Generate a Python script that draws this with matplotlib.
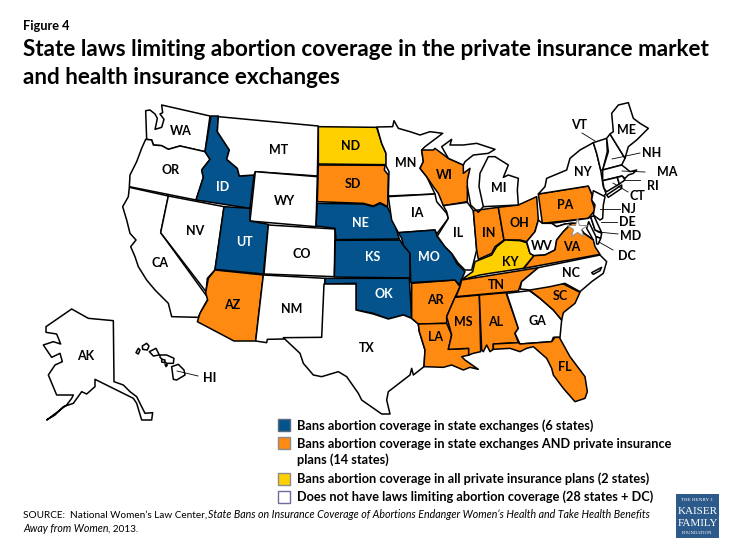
import matplotlib
matplotlib.use("Agg")
import matplotlib.pyplot as plt
from matplotlib.patches import Polygon, Rectangle

plt.rcParams['font.family'] = ['Lato', 'DejaVu Sans']

BLUE = '#04538C'; ORANGE = '#FF8A12'; YELLOW = '#FFD000'; WHITE = '#FFFFFF'
TITLE_LINES = ["State laws limiting abortion coverage in the private insurance market",
               "and health insurance exchanges"]
FIGURE_LABEL = "Figure 4"
LEGEND_LABELS = ["Bans abortion coverage in state exchanges (6 states)",
                 "Bans abortion coverage in state exchanges AND private insurance\nplans (14 states)",
                 "Bans abortion coverage in all private insurance plans (2 states)",
                 "Does not have laws limiting abortion coverage (28 states + DC)"]
BAN_EXCHANGE = ['ID', 'UT', 'NE', 'KS', 'MO', 'OK']
BAN_BOTH = ['AZ', 'SD', 'WI', 'IN', 'OH', 'PA', 'VA', 'TN', 'AR', 'LA', 'MS', 'AL', 'SC', 'FL']
BAN_PRIVATE = ['ND', 'KY']

# State outlines, each list in its own traced frame
# (origin of the frame in px; scale 1/3 px per unit)
WEST = (100, 90)
EAST = (380, 90)
SOUTH = (270, 260)
PACIFIC = (30, 270)

OUTLINES = {
 'WA': (WEST, [(185,45),(330,78),(315,185),(240,168),(205,178),(185,167),(160,165),(155,150),(140,148),(137,62),(150,60),(165,72),(172,85),(168,105),(165,118),(185,112),(192,88),(180,72),(188,68)]),
 'OR': (WEST, [(137,148),(155,150),(160,165),(185,167),(205,178),(240,168),(315,185),(330,208),(305,240),(310,262),(288,330),(88,290),(90,255),(110,215),(125,175)]),
 'CA': (WEST, [(88,292),(205,318),(182,428),(325,625),(305,660),(295,682),(215,680),(205,640),(165,600),(140,570),(115,530),(105,500),(92,470),(108,450),(90,430),(80,390),(68,350),(85,320)]),
 'NV': (WEST, [(205,318),(372,350),(345,540),(322,565),(318,605),(182,428)]),
 'ID': (WEST, [(333,78),(355,78),(352,125),(388,180),(380,208),(412,235),(418,258),(462,255),(450,355),(288,330),(310,262),(305,240),(330,208),(315,185)]),
 'MT': (WEST, [(355,80),(655,108),(652,258),(466,245),(462,255),(418,258),(412,235),(380,208),(388,180),(352,125)]),
 'WY': (WEST, [(466,245),(652,260),(648,410),(450,393)]),
 'UT': (WEST, [(372,350),(450,355),(450,393),(505,403),(490,552),(345,538)]),
 'CO': (WEST, [(505,405),(705,417),(703,560),(492,552)]),
 'ND': (WEST, [(655,110),(830,112),(845,160),(858,190),(860,224),(655,222)]),
 'SD': (WEST, [(655,225),(855,226),(853,240),(865,255),(863,350),(840,338),(820,348),(790,340),(652,335)]),
 'NE': (WEST, [(652,340),(790,342),(820,350),(840,340),(863,352),(880,390),(898,447),(708,449),(705,415),(648,408)]),
 'KS': (WEST, [(706,451),(900,450),(909,465),(930,489),(930,564),(703,561)]),
 'AZ': (PACIFIC, [(555,0),(700,15),(677,213),(612,213),(502,155),(510,130),(533,90),(527,68),(535,25)]),
 'NM': (PACIFIC, [(700,15),(885,25),(877,203),(760,207),(712,208),(710,218),(677,213)]),
 'OK': (SOUTH, [(165,55),(418,55),(425,175),(400,165),(355,177),(310,160),(258,150),(258,70),(165,72)]),
 'TX': (SOUTH, [(162,72),(258,72),(258,150),(310,162),(355,177),(400,165),(425,175),(445,192),(448,215),(465,270),(462,320),(430,345),(425,325),(420,345),(355,395),(350,420),(360,462),(335,462),(275,420),(265,400),(230,350),(205,335),(155,350),(130,345),(100,310),(90,280),(40,233),(155,232)]),
 'AR': (SOUTH, [(425,70),(555,60),(570,80),(555,112),(530,170),(530,190),(445,192),(425,175)]),
 'LA': (SOUTH, [(445,192),(530,190),(545,225),(535,268),(596,265),(598,285),(575,290),(585,300),(625,328),(600,322),(580,330),(545,315),(520,322),(462,320),(465,270),(448,215)]),
 'MS': (SOUTH, [(555,112),(628,105),(632,275),(610,280),(596,285),(596,265),(535,268),(545,225),(530,170)]),
 'AL': (SOUTH, [(628,105),(708,98),(745,205),(735,220),(745,248),(670,252),(670,268),(660,275),(650,255),(640,275),(635,270)]),
 'GA': (SOUTH, [(710,100),(778,92),(810,115),(850,150),(875,180),(870,232),(850,232),(845,245),(750,252),(735,220),(745,205)]),
 'FL': (SOUTH, [(670,252),(745,248),(750,252),(845,245),(855,232),(868,232),(900,290),(945,350),(952,395),(945,415),(915,425),(880,385),(850,345),(845,325),(830,295),(790,260),(770,265),(750,275),(720,265),(670,268)]),
 'SC': (SOUTH, [(778,90),(830,65),(880,72),(930,97),(915,130),(880,158),(875,180),(850,150),(810,115)]),
 'MN': (EAST, [(-9,111),(38,110),(42,92),(55,115),(90,125),(120,135),(150,125),(188,130),(135,170),(125,180),(130,215),(120,235),(140,260),(165,312),(25,318),(27,245),(18,228),(18,190),(5,160)]),
 'IA': (EAST, [(25,320),(165,312),(170,335),(200,370),(205,385),(170,432),(165,420),(55,428),(35,390)]),
 'MO': (EAST, [(55,428),(165,420),(172,440),(195,470),(215,490),(230,520),(255,545),(238,585),(225,570),(92,578),(90,490),(70,465),(65,445)]),
 'WI': (EAST, [(125,180),(160,180),(165,175),(205,205),(250,225),(250,250),(270,235),(262,270),(262,335),(190,347),(175,310),(160,290),(140,260),(120,235),(130,215)]),
 'IL': (EAST, [(190,347),(262,337),(280,362),(290,480),(275,540),(255,540),(235,520),(215,490),(195,470),(172,438),(205,385),(200,365)]),
 'IN': (EAST, [(280,362),(355,352),(372,450),(345,470),(335,490),(295,508),(290,480)]),
 'OH': (EAST, [(355,352),(415,345),(470,320),(475,390),(465,425),(440,455),(420,450),(380,450),(372,450)]),
 'KY': (EAST, [(243,570),(278,545),(285,515),(335,495),(350,470),(375,450),(420,452),(440,458),(450,490),(462,497),(430,535),(330,550),(300,555)]),
 'TN': (EAST, [(245,570),(475,533),(425,575),(415,603),(228,620),(240,590)]),
 'MI': (EAST, [(325,200),(345,200),(385,225),(370,262),(385,255),(415,265),(412,300),(415,345),(310,350),(297,290),(300,250)]),
 'MI2': (EAST, [(185,170),(215,148),(210,165),(250,165),(290,160),(345,178),(325,190),(280,195),(255,215),(250,225),(205,205)]),
 'PA': (EAST, [(475,312),(625,288),(637,315),(635,330),(645,360),(625,385),(487,400)]),
 'NY': (EAST, [(475,312),(495,290),(500,265),(560,240),(570,205),(600,180),(640,158),(650,190),(662,240),(670,290),(678,310),(672,318),(637,315),(625,288)]),
 'LI': (EAST, [(680,315),(725,285),(725,295),(685,322)]),
 'VT': (EAST, [(640,158),(680,145),(682,185),(668,240),(662,240),(650,190)]),
 'NH': (EAST, [(680,145),(690,132),(735,205),(725,225),(668,240),(685,185)]),
 'ME': (EAST, [(690,132),(700,125),(695,70),(715,45),(745,38),(760,85),(780,100),(805,115),(770,150),(745,170),(735,205)]),
 'MA': (EAST, [(668,240),(725,225),(738,235),(750,245),(770,240),(760,250),(745,255),(735,265),(725,258),(668,272)]),
 'CT': (EAST, [(668,272),(712,262),(718,282),(680,305),(672,295)]),
 'RI': (EAST, [(712,262),(727,258),(735,270),(718,282)]),
 'NJ': (EAST, [(640,302),(675,320),(670,345),(668,385),(660,390),(640,375),(645,345),(635,330)]),
 'MD': (EAST, [(515,400),(625,385),(632,380),(645,420),(665,430),(662,445),(648,440),(626,395),(620,415),(640,450),(612,430),(590,400),(575,400),(555,402),(530,410)]),
 'DE': (EAST, [(632,380),(642,378),(665,428),(645,420)]),
 'ES': (EAST, [(648,440),(662,445),(655,462),(650,462)]),
 'WV': (EAST, [(487,400),(475,390),(465,425),(440,455),(450,490),(462,497),(495,495),(525,480),(530,450),(550,425),(575,400),(555,402),(530,410),(515,400)]),
 'VA': (EAST, [(432,535),(462,497),(495,495),(525,480),(530,450),(550,425),(575,400),(590,400),(612,430),(640,450),(645,470),(660,493)]),
 'NC': (EAST, [(420,597),(425,575),(475,533),(660,495),(680,515),(670,550),(635,575),(600,605),(555,580),(510,590),(450,600)]),
 'OB': (EAST, [(635,548),(665,532),(660,542),(640,553)]),
 'AK': (PACIFIC, [(125,117),(175,145),(250,152),(252,335),(280,345),(300,365),(320,380),(345,430),(368,428),(365,450),(335,450),(320,400),(310,385),(195,328),(195,350),(170,372),(155,365),(130,400),(100,410),(75,435),(50,450),(110,405),(125,385),(130,375),(80,375),(55,315),(75,285),(97,275),(90,250),(65,262),(40,225),(70,215),(92,222),(80,192),(48,187),(48,170)]),
 'HI1': (PACIFIC, [(425,290),(445,283),(462,300),(465,315),(440,330),(430,328)]),
 'HI2': (PACIFIC, [(390,255),(410,255),(432,265),(430,280),(410,280),(390,262)]),
 'HI3': (PACIFIC, [(358,245),(378,235),(388,255),(370,258)]),
 'HI4': (PACIFIC, [(337,228),(350,220),(357,228),(352,240),(338,238)]),
 'HI5': (PACIFIC, [(318,248),(325,235),(330,240),(325,252)]),
 'HI6': (PACIFIC, [(395,268),(405,270),(403,278),(395,276)]),
 'HI7': (PACIFIC, [(405,282),(412,285),(408,290)]),
}
LAKE_SHORE = (EAST, [(262,290),(272,345),(295,367),(308,352)])

STATE_LABELS = {'WA':(181,131),'MT':(279,150),'OR':(171,170),'ID':(223,187),'NV':(195,231),'WY':(285,201),
 'UT':(244,242),'CO':(302,254),'CA':(160,263),'AZ':(232,305),'NM':(292,309),'ND':(351,146),'SD':(353,184),
 'NE':(360,223),'KS':(373,257),'OK':(384,294),'TX':(367,348),'MN':(406,163),'IA':(417,213),'IL':(458,233),
 'WI':(444,175),'MI':(499,188),'IN':(489,233),'OH':(519,223),'KY':(510,262),'PA':(565,205),'NY':(583,172),
 'WV':(542,246),'VA':(572,247),'NC':(571,273),'SC':(560,296),'TN':(496,285),'AR':(435,300),'MO':(429,257),
 'LA':(436,337),'MS':(463,322),'AL':(496,322),'GA':(537,321),'FL':(565,367),'AK':(86,356),'HI':(210,378),
 'VT':(579,125),'ME':(627,130),'NH':(652,153),'MA':(667,172),'RI':(653,186),'CT':(637,196),'NJ':(628,209),
 'DE':(627,222),'MD':(631,236),'DC':(627,256)}
LEADERS = [((582,133),(595,141)),((640,153),(612,159)),((645,172),(622,171)),((640,180),(623,180)),
           ((628,192),(613,183)),((620,209),(600,209)),((617,222),(601,222)),((618,234),(598,232)),
           ((613,250),(599,242)),((198,376),(177,371))]


def to_px(frame, pts):
    return [(frame[0] + x / 3, frame[1] + y / 3) for x, y in pts]


def state_color(name):
    key = name[:2]
    if key in BAN_EXCHANGE:
        return BLUE
    if key in BAN_BOTH:
        return ORANGE
    if key in BAN_PRIVATE:
        return YELLOW
    return WHITE


fig = plt.figure(figsize=(7.35, 5.51), dpi=100)
ax = fig.add_axes([0, 0, 1, 1])
ax.set_xlim(0, 735)
ax.set_ylim(551, 0)
ax.axis('off')

for name, (frame, pts) in OUTLINES.items():
    ax.add_patch(Polygon(to_px(frame, pts), closed=True, facecolor=state_color(name),
                         edgecolor='black', linewidth=1.1, joinstyle='round'))
lake = to_px(*LAKE_SHORE)
ax.plot([p[0] for p in lake], [p[1] for p in lake], color='black', lw=1.1)

# DC star
ax.plot([577], [228], marker='*', ms=15, mfc='white', mec='#8C8C8C', mew=0.7, ls='none', zorder=4)

for a, b in LEADERS:
    ax.plot([a[0], b[0]], [a[1], b[1]], color='black', lw=0.6, zorder=4)

for st, (x, y) in STATE_LABELS.items():
    c = 'white' if st in BAN_EXCHANGE else 'black'
    ax.text(x, y, st, color=c, fontsize=9, fontweight='bold', ha='center', va='center', zorder=5)

ax.text(23, 26, FIGURE_LABEL, fontsize=9.2, fontweight='bold', va='center')
for y, line in zip((49, 77), TITLE_LINES):
    ax.text(23, y, line, fontsize=16.2, fontweight='bold', va='center')

# Legend
SWATCHES = [(425, BLUE, '#5A6B80'), (443, ORANGE, '#8C8C8C'), (479, YELLOW, '#8C8C8C'), (497, WHITE, '#6F6AA0')]
for (yc, fc, ec) in SWATCHES:
    ax.add_patch(Rectangle((278, yc - 6), 12, 12, facecolor=fc, edgecolor=ec, linewidth=1))
l1, l2 = LEGEND_LABELS[1].split('\n')
for y, line in zip((426, 444, 460, 479, 497), (LEGEND_LABELS[0], l1, l2, LEGEND_LABELS[2], LEGEND_LABELS[3])):
    ax.text(297, y, line, fontsize=9.2, fontweight='bold', va='center')

# Source
ax.text(23, 515, "SOURCE:  National Women\u2019s Law Center,", fontsize=7.2, va='center')
ax.text(208, 515, "State Bans on Insurance Coverage of Abortions Endanger Women\u2019s Health and Take Health Benefits",
        fontsize=7.65, style='italic', va='center')
ax.text(23, 529, "Away from Women", fontsize=7.65, style='italic', va='center')
ax.text(108, 529, ", 2013.", fontsize=7.2, va='center')

# Logo
ax.add_patch(Rectangle((676, 494), 43, 44, facecolor='#2C5A8A', edgecolor='none'))
ax.text(697.5, 500, "THE HENRY J.", color='white', family='Liberation Serif', fontsize=3.6, ha='center', va='center')
ax.text(697.5, 511, "KAISER", color='white', family='Liberation Serif', fontsize=8, ha='center', va='center')
ax.text(697.5, 523, "FAMILY", color='white', family='Liberation Serif', fontsize=8, ha='center', va='center')
ax.text(697.5, 533, "FOUNDATION", color='white', family='Liberation Serif', fontsize=3.4, ha='center', va='center')

fig.savefig('out.png', dpi=100)
